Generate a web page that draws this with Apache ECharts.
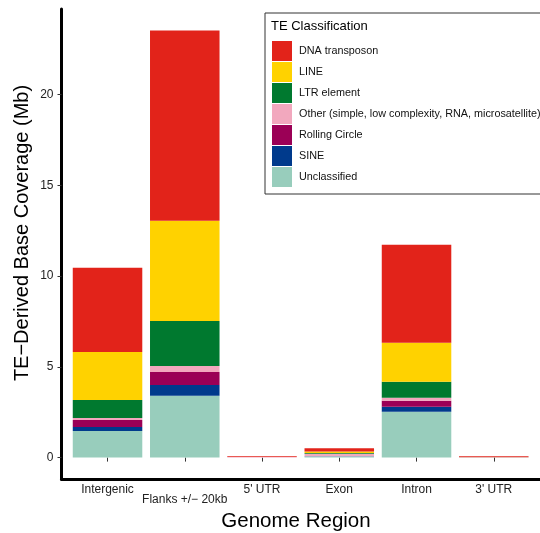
<!DOCTYPE html>
<html><head><meta charset="utf-8">
<script src="https://cdn.jsdelivr.net/npm/echarts@6/dist/echarts.min.js"></script>
<style>html,body{margin:0;padding:0;background:#fff}#c{width:540px;height:533px}</style>
</head><body><div id="c"></div>
<script>
const categories = ["Intergenic", "Flanks +/\u2212 20kb", "5' UTR", "Exon", "Intron", "3' UTR"];
const dnaTransposon = [4.64, 10.48, 0.05, 0.17, 5.40, 0.05];
const lineTE = [2.65, 5.53, 0, 0.09, 2.14, 0];
const ltrElement = [0.99, 2.47, 0, 0.04, 0.88, 0];
const otherTE = [0.11, 0.33, 0.02, 0.13, 0.17, 0];
const rollingCircle = [0.39, 0.72, 0, 0.01, 0.33, 0];
const sine = [0.22, 0.59, 0, 0.01, 0.27, 0];
const unclassified = [1.46, 3.41, 0.01, 0.06, 2.53, 0.02];
const yTicks = [0, 5, 10, 15, 20];
const legendOrder = ["DNA transposon", "LINE", "LTR element", "Other (simple, low complexity, RNA, microsatellite)", "Rolling Circle", "SINE", "Unclassified"];

const stackSeries = [
  ["Unclassified", unclassified, "#98CDBC"],
  ["SINE", sine, "#003A8C"],
  ["Rolling Circle", rollingCircle, "#9B0056"],
  ["Other (simple, low complexity, RNA, microsatellite)", otherTE, "#F2A8BE"],
  ["LTR element", ltrElement, "#00792F"],
  ["LINE", lineTE, "#FFD200"],
  ["DNA transposon", dnaTransposon, "#E2231A"]
];

const FONT = 'Liberation Sans, Arial, sans-serif';
const Y_MIN = -1.18, Y_MAX = 24.71;
const chart = echarts.init(document.getElementById('c'), null, {renderer: 'canvas'});
chart.setOption({
  animation: false,
  backgroundColor: '#fff',
  textStyle: {fontFamily: FONT},
  title: {
    text: 'TE Classification', left: 271, top: 20, padding: 0,
    textStyle: {fontSize: 13, fontWeight: 'normal', color: '#000', fontFamily: FONT}
  },
  legend: {
    data: legendOrder, orient: 'vertical', left: 265, top: 13,
    padding: [28, 4, 7, 7], itemWidth: 20, itemHeight: 20, itemGap: 1,
    icon: 'rect', borderColor: '#333', borderWidth: 1, backgroundColor: '#fff',
    selectedMode: false,
    textStyle: {fontSize: 10.8, color: '#111', padding: [0, 0, 0, 2], fontFamily: FONT}
  },
  grid: [
    {left: 68.9, right: 7.6, top: 9, bottom: 54},
    {left: 61.5, right: 0, top: 9, bottom: 54}
  ],
  xAxis: [
    {
      type: 'category', gridIndex: 0, data: categories,
      axisLine: {show: false},
      axisTick: {show: true, alignWithLabel: true, length: 4, lineStyle: {color: '#333'}},
      axisLabel: {
        margin: 5, fontSize: 12, color: '#222', interval: 0,
        formatter: (v, i) => i === 1 ? '{low|' + v + '}' : v,
        rich: {low: {fontSize: 12, color: '#222', padding: [10, 0, 0, 0]}}
      }
    },
    {
      type: 'value', gridIndex: 1, min: 0, max: 1,
      axisLine: {show: true, onZero: false, lineStyle: {color: '#000', width: 3}},
      axisTick: {show: false}, axisLabel: {show: false}, splitLine: {show: false}
    }
  ],
  yAxis: [
    {type: 'value', gridIndex: 0, min: Y_MIN, max: Y_MAX, show: false, splitLine: {show: false}},
    {
      type: 'value', gridIndex: 1, min: Y_MIN, max: Y_MAX,
      axisLine: {show: true, onZero: false, lineStyle: {color: '#000', width: 3}},
      axisTick: {show: true, customValues: yTicks, length: 4, lineStyle: {color: '#333'}},
      axisLabel: {customValues: yTicks, margin: 8, fontSize: 12, color: '#222'},
      splitLine: {show: false}
    }
  ],
  graphic: [
    {type: 'text', x: 22, y: 233, rotation: Math.PI / 2, style: {text: 'TE\u2212Derived Base Coverage (Mb)', font: '20px ' + FONT, fill: '#000', textAlign: 'center', textVerticalAlign: 'middle'}},
    {type: 'text', x: 296, y: 521, style: {text: 'Genome Region', font: '20.5px ' + FONT, fill: '#000', textAlign: 'center', textVerticalAlign: 'middle'}}
  ],
  series: stackSeries.map(([name, vals, color]) => ({
    name: name, type: 'bar', stack: 'te', barWidth: '90%',
    xAxisIndex: 0, yAxisIndex: 0,
    itemStyle: {color: color},
    data: vals
  }))
});
</script></body></html>
